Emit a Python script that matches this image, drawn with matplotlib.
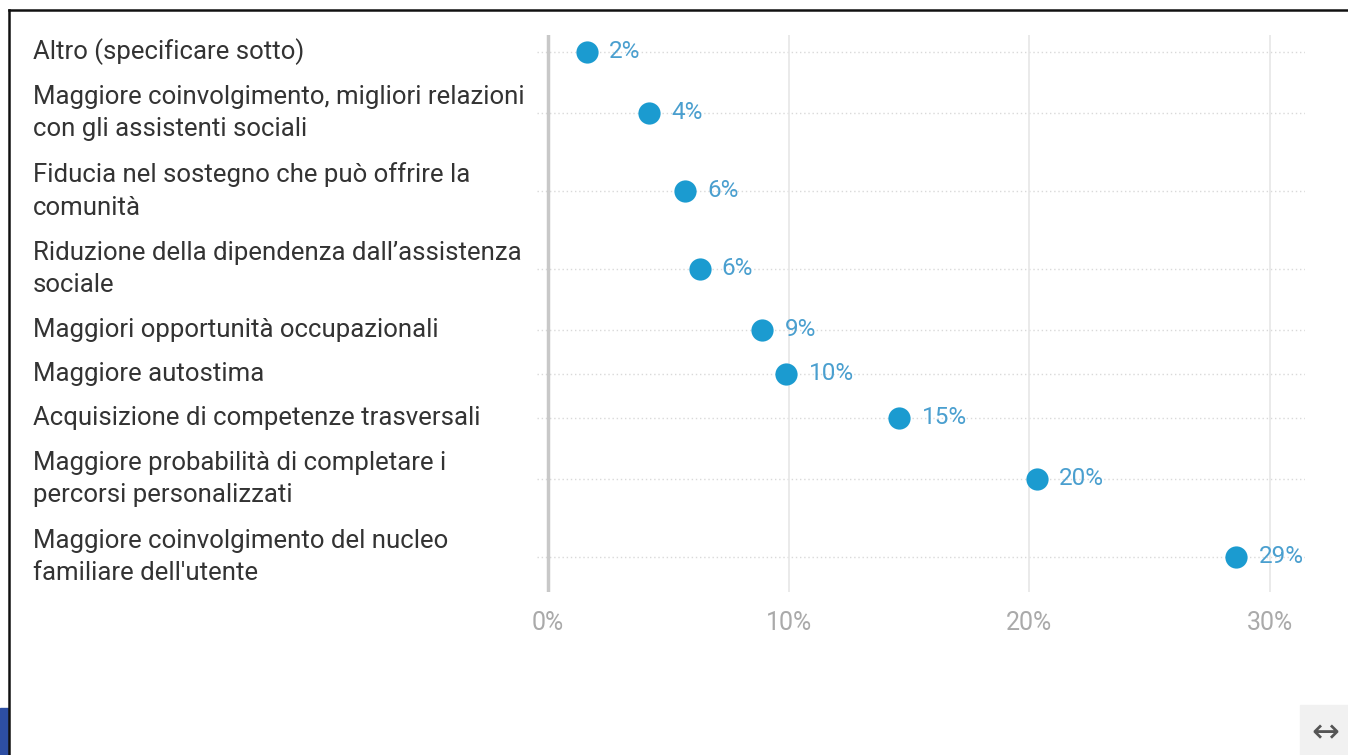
import matplotlib
matplotlib.use("Agg")
import matplotlib.pyplot as plt
from matplotlib.lines import Line2D
from matplotlib.patches import Rectangle
from matplotlib.transforms import blended_transform_factory

plt.rcParams["font.family"] = ["Roboto", "DejaVu Sans"]

categories = [
    "Altro (specificare sotto)",
    "Maggiore coinvolgimento, migliori relazioni\ncon gli assistenti sociali",
    "Fiducia nel sostegno che può offrire la\ncomunità",
    "Riduzione della dipendenza dall’assistenza\nsociale",
    "Maggiori opportunità occupazionali",
    "Maggiore autostima",
    "Acquisizione di competenze trasversali",
    "Maggiore probabilità di completare i\npercorsi personalizzati",
    "Maggiore coinvolgimento del nucleo\nfamiliare dell'utente",
]
values = [1.6, 4.2, 5.7, 6.3, 8.9, 9.9, 14.6, 20.3, 28.6]
x_ticks = [0, 10, 20, 30]
x_tick_labels = ["0%", "10%", "20%", "30%"]

DOT = "#1b9bd0"
LABEL = "#4a9fcf"
TEXT = "#333333"
W, H = 1348, 755


def main():
    fig = plt.figure(figsize=(W / 100, H / 100), dpi=100)
    fig.patch.set_facecolor("#ffffff")

    # axes box in pixels: x 537..1305, y 35..592
    ax = fig.add_axes([537 / W, (H - 592) / H, (1305 - 537) / W, (592 - 35) / H])
    ax.set_facecolor("none")

    # row heights depend on how many lines the label has
    rows_y = []
    top = 30
    for cat in categories:
        h = 44 if cat.count("\n") == 0 else 78
        rows_y.append(top + h / 2)
        top += h

    ax.set_xlim(-0.457, 31.45)
    ax.set_ylim(592, 35)

    for y in rows_y:
        ax.axhline(y, color="#d9d9d9", linestyle=(0, (1, 2)), linewidth=1, zorder=1)
    for x in x_ticks[1:]:
        ax.axvline(x, color="#e6e6e6", linewidth=1.2, zorder=1)
    ax.axvline(0, color="#c8c8c8", linewidth=2.5, zorder=2)

    ax.plot(values, rows_y, linestyle="", marker="o", markersize=16,
            color=DOT, markeredgewidth=0, zorder=3)

    for v, y in zip(values, rows_y):
        ax.annotate(f"{round(v)}%", (v, y), xytext=(16, 0), textcoords="offset points",
                    va="center", ha="left", fontsize=17.5, color=LABEL, zorder=4)

    trans = blended_transform_factory(fig.transFigure, ax.transData)
    for cat, y in zip(categories, rows_y):
        fig.text(33 / W, y, cat, transform=trans, ha="left", va="center",
                 fontsize=18.5, color=TEXT, linespacing=1.45)

    ax.set_xticks(x_ticks)
    ax.set_xticklabels(x_tick_labels)
    ax.set_yticks([])
    ax.tick_params(axis="x", length=0, pad=14, labelsize=18, labelcolor="#aaaaaa")
    for s in ax.spines.values():
        s.set_visible(False)

    # screenshot frame bits
    fig.add_artist(Line2D([9 / W, 1], [1 - 10 / H, 1 - 10 / H], color="#111111", linewidth=1.8))
    fig.add_artist(Line2D([9 / W, 9 / W], [0, 1 - 10 / H], color="#111111", linewidth=1.8))
    fig.add_artist(Rectangle((0, 0), 8 / W, 47 / H, color="#2d4ea3", transform=fig.transFigure))
    fig.add_artist(Rectangle((1300 / W, 0), 48 / W, 50 / H, color="#f1f1f1", transform=fig.transFigure))
    fig.text(1325 / W, 1 - 733 / H, "↔", ha="center", va="center", fontsize=24, color="#555555")

    fig.savefig("out.png", dpi=100)


if __name__ == "__main__":
    main()
